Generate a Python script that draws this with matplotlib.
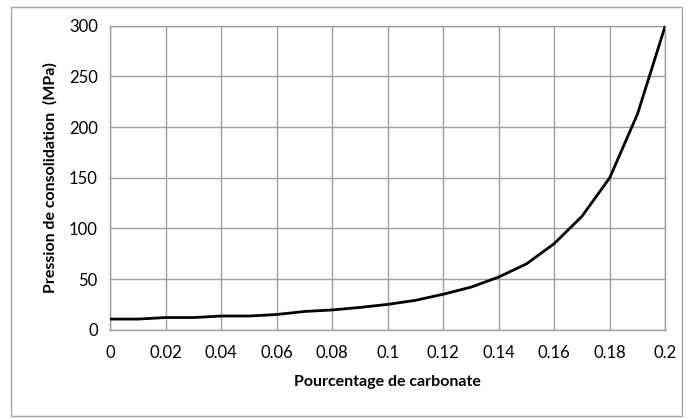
import matplotlib
matplotlib.use("Agg")
import matplotlib.pyplot as plt
from matplotlib.patches import Rectangle

plt.rcParams['font.family'] = ['Lato', 'DejaVu Sans']

carbonate = [0.00, 0.01, 0.02, 0.03, 0.04, 0.05, 0.06, 0.07, 0.08, 0.09, 0.10,
             0.11, 0.12, 0.13, 0.14, 0.15, 0.16, 0.17, 0.18, 0.19, 0.20]
pression = [10.5, 10.5, 12, 12, 13.5, 13.5, 15, 18, 19.5, 22, 25,
            29, 35, 42, 52, 65, 85, 112, 150, 213, 300]
x_ticks = [0, 0.02, 0.04, 0.06, 0.08, 0.1, 0.12, 0.14, 0.16, 0.18, 0.2]
x_tick_labels = ['0', '0.02', '0.04', '0.06', '0.08', '0.1', '0.12', '0.14', '0.16', '0.18', '0.2']
y_ticks = [0, 50, 100, 150, 200, 250, 300]

fig = plt.figure(figsize=(6.89, 4.19), dpi=100)
fig.patches.append(Rectangle((11/689, 1 - 416/419), (682-11)/689, (416-7)/419,
                             transform=fig.transFigure, fill=False,
                             edgecolor='#a6a6a6', linewidth=1.0))
ax = fig.add_axes([0.160, 0.2131, 0.9656 - 0.160, 0.9387 - 0.2131])
ax.plot(carbonate, pression, color='black', linewidth=2.0, zorder=3)
ax.set_xlim(0, 0.2)
ax.set_ylim(0, 300)
ax.set_xticks(x_ticks)
ax.set_xticklabels(x_tick_labels)
ax.set_yticks(y_ticks)
ax.grid(True, color='#9e9e9e', linewidth=1.0)
for s in ax.spines.values():
    s.set_color('#9e9e9e')
    s.set_linewidth(1.0)
ax.tick_params(length=0, labelsize=12, colors='black', pad=9)
ax.tick_params(axis='x', pad=11)
ax.set_xlabel('Pourcentage de carbonate', fontsize=11.5, fontweight='bold', labelpad=10)
ax.set_ylabel('Pression de consolidation  (MPa)', fontsize=11.5, fontweight='bold', labelpad=8)
fig.savefig('out.png', dpi=100)
